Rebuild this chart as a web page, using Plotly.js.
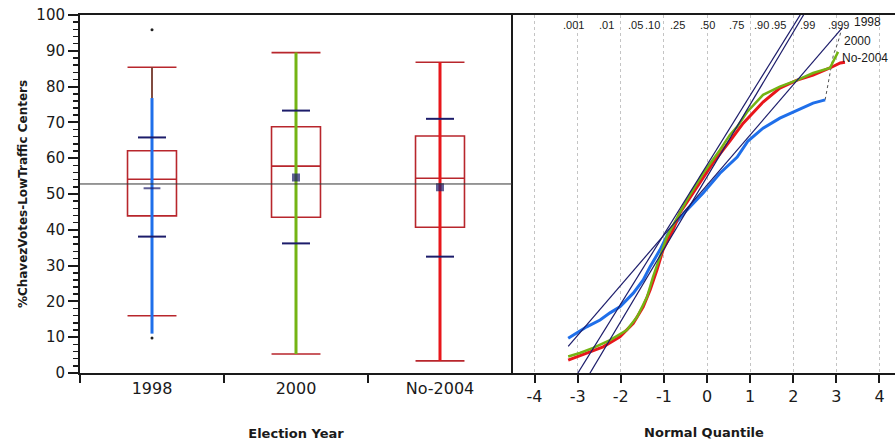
<!DOCTYPE html>
<html>
<head>
<meta charset="utf-8">
<script src="https://cdn.plot.ly/plotly-3.0.1.min.js"></script>
<style>html,body{margin:0;padding:0;background:#fff;}#chart{width:895px;height:447px;}</style>
</head>
<body>
<div id="chart"></div>
<script>
// ---------- data ----------
const categories = ['1998', '2000', 'No-2004'];
const boxQ1 = [43.9, 43.5, 40.7];
const boxMedian = [54.1, 57.8, 54.4];
const boxQ3 = [62.1, 68.8, 66.2];
const whiskerLow = [16.0, 5.3, 3.4];
const whiskerHigh = [85.4, 89.5, 86.8];
const stripLow = [11.0, 5.3, 3.4];
const stripHigh = [76.8, 89.5, 86.8];
const stripTop = [85.4, 89.5, 86.8];
const groupMeans = [51.6, 54.6, 51.9];
const sdUpper = [65.8, 73.3, 71.0];
const sdLower = [38.1, 36.2, 32.5];
const outlierCats = ['1998', '1998'];
const outlierValues = [95.9, 9.8];
const grandMean = 52.8;

// normal quantile plot
const z1998 = [-3.22, -3.10, -2.79, -2.48, -2.25, -2.02, -1.86, -1.71, -1.48, -1.32, -1.09, -0.86, -0.47, -0.09, 0.30, 0.70, 0.95, 1.30, 1.69, 2.09, 2.46, 2.74, 2.85, 2.93, 3.04, 3.13];
const v1998 = [9.7, 10.6, 12.9, 14.8, 16.8, 18.5, 20.4, 22.3, 26.0, 29.7, 34.4, 40.0, 45.5, 50.3, 55.8, 60.3, 64.8, 68.4, 71.2, 73.5, 75.4, 76.3, 83.2, 88.8, 92.5, 96.4];
const z2000 = [-3.22, -2.95, -2.64, -2.25, -1.86, -1.62, -1.39, -1.25, -1.09, -0.93, -0.47, -0.09, 0.30, 0.53, 0.70, 0.93, 1.30, 1.69, 2.09, 2.46, 2.85, 2.97, 3.04];
const v2000 = [4.6, 5.6, 7.0, 9.2, 12.0, 15.7, 21.3, 26.9, 32.5, 38.1, 48.3, 55.8, 62.3, 66.5, 68.8, 72.9, 77.7, 80.0, 81.8, 83.8, 85.2, 88.0, 89.7];
const z2004 = [-3.22, -2.79, -2.41, -2.02, -1.71, -1.48, -1.32, -1.16, -1.02, -0.79, -0.63, -0.23, 0.14, 0.53, 0.84, 1.30, 1.69, 2.09, 2.46, 2.85, 3.09, 3.20];
const v2004 = [3.6, 5.6, 7.3, 10.1, 13.9, 18.5, 23.2, 28.8, 34.4, 39.9, 44.7, 52.0, 58.7, 64.8, 69.8, 75.7, 79.6, 81.8, 83.2, 85.2, 86.6, 86.8];
const refIntercept = [52.5, 58.1, 54.8];
const refSlope = [14.0, 19.4, 20.2];
const quantileZ = [-3.09, -2.326, -1.645, -1.282, -0.674, 0, 0.674, 1.282, 1.645, 2.326, 3.09];
const quantileLabels = ['.001', '.01', '.05', '.10', '.25', '.50', '.75', '.90', '.95', '.99', '.999'];
const normalTicks = [-4, -3, -2, -1, 0, 1, 2, 3, 4];

// ---------- styles ----------
const groupColors = ['#1f6fea', '#74b414', '#e8161b'];
const boxColor = '#b8262c';
const navy = '#1c1c6a';
const font = 'DejaVu Sans, Verdana, sans-serif';
const narrowFont = 'Liberation Sans, Arial, sans-serif';
const ink = '#1a1a1a';

const traces = [];

// box plots
traces.push({
  type: 'box', x: categories, q1: boxQ1, median: boxMedian, q3: boxQ3,
  lowerfence: whiskerLow, upperfence: whiskerHigh,
  boxpoints: false, whiskerwidth: 1, width: 0.34,
  line: {color: boxColor, width: 1.6}, fillcolor: 'rgba(0,0,0,0)',
  xaxis: 'x', yaxis: 'y', hoverinfo: 'skip'
});

// data strips
categories.forEach((c, i) => {
  traces.push({type: 'scatter', mode: 'lines', x: [c, c], y: [stripHigh[i], stripTop[i]],
    line: {color: '#6a4a3a', width: 1.5}, xaxis: 'x', yaxis: 'y', hoverinfo: 'skip'});
  traces.push({type: 'scatter', mode: 'lines', x: [c, c], y: [stripLow[i], stripHigh[i]],
    line: {color: groupColors[i], width: 3}, xaxis: 'x', yaxis: 'y', hoverinfo: 'skip'});
});

// outliers
traces.push({type: 'scatter', mode: 'markers', x: outlierCats, y: outlierValues,
  marker: {color: '#222', size: 3}, xaxis: 'x', yaxis: 'y', hoverinfo: 'skip'});

// std dev ticks
traces.push({type: 'scatter', mode: 'markers', x: categories.concat(categories), y: sdUpper.concat(sdLower),
  marker: {symbol: 'line-ew', size: 20, line: {color: navy, width: 2}}, xaxis: 'x', yaxis: 'y', hoverinfo: 'skip'});

// means
traces.push({type: 'scatter', mode: 'markers', x: categories, y: groupMeans,
  marker: {symbol: ['line-ew', 'square', 'square'], size: [12, 6, 6], color: navy, line: {color: navy, width: 2}},
  xaxis: 'x', yaxis: 'y', hoverinfo: 'skip'});

// quantile curves
const tailStart = 21;
traces.push({type: 'scatter', mode: 'lines', x: z1998.slice(tailStart), y: v1998.slice(tailStart),
  line: {color: '#555', width: 1, dash: 'dot'}, xaxis: 'x2', yaxis: 'y2', hoverinfo: 'skip'});
traces.push({type: 'scatter', mode: 'lines', x: z1998.slice(0, tailStart + 1), y: v1998.slice(0, tailStart + 1),
  line: {color: groupColors[0], width: 3}, xaxis: 'x2', yaxis: 'y2', hoverinfo: 'skip'});
traces.push({type: 'scatter', mode: 'lines', x: z2004, y: v2004,
  line: {color: groupColors[2], width: 3}, xaxis: 'x2', yaxis: 'y2', hoverinfo: 'skip'});
traces.push({type: 'scatter', mode: 'lines', x: z2000, y: v2000,
  line: {color: groupColors[1], width: 2.5}, xaxis: 'x2', yaxis: 'y2', hoverinfo: 'skip'});

// reference lines
const zMin = Math.min(...z1998), zMax = Math.max(...z1998);
refIntercept.forEach((b, i) => {
  traces.push({type: 'scatter', mode: 'lines', x: [zMin, zMax],
    y: [b + refSlope[i] * zMin, b + refSlope[i] * zMax],
    line: {color: navy, width: 1.2}, xaxis: 'x2', yaxis: 'y2', hoverinfo: 'skip'});
});

const W = 895;
// small nudges keep adjacent, crowded probability labels apart
const labelNudge = [0, 0, -1, 1, 0, 0, 0, -1, 1, 0, -2];
const annotations = quantileZ.map((zv, i) => ({
  xref: 'x2', yref: 'y2 domain', x: zv, y: 1, yanchor: 'top', xanchor: 'center', yshift: -2,
  xshift: labelNudge[i], text: quantileLabels[i], showarrow: false,
  font: {family: narrowFont, size: 11, color: ink}
}));
annotations.push(
  {xref: 'x2', yref: 'y2', x: 3.36, y: 98, text: categories[0], showarrow: false, xanchor: 'left', yanchor: 'middle', font: {family: narrowFont, size: 12, color: ink}},
  {xref: 'x2', yref: 'y2', x: 3.14, y: 92.6, text: categories[1], showarrow: false, xanchor: 'left', yanchor: 'middle', font: {family: narrowFont, size: 12, color: ink}},
  {xref: 'x2', yref: 'y2', x: 3.08, y: 88.0, text: categories[2], showarrow: false, xanchor: 'left', yanchor: 'middle', font: {family: narrowFont, size: 12, color: ink}}
);

const layout = {
  width: 895, height: 447,
  margin: {l: 0, r: 0, t: 15, b: 74},
  paper_bgcolor: '#fff', plot_bgcolor: '#fff',
  showlegend: false,
  font: {family: font, color: ink},
  xaxis: {
    domain: [80 / W, 512 / W], anchor: 'y', type: 'category',
    categoryarray: categories, range: [-0.5, 2.5],
    showline: true, mirror: true, linecolor: ink, linewidth: 2,
    ticks: 'outside', tickson: 'boundaries', ticklen: 8, tickwidth: 2, tickcolor: ink,
    tickangle: 0, showgrid: false, zeroline: false,
    tickfont: {family: font, size: 16, color: ink},
    title: {text: 'Election Year', font: {family: font, size: 13, weight: 'bold', color: ink}, standoff: 32}
  },
  yaxis: {
    domain: [0, 1], anchor: 'x', range: [0, 100],
    showline: true, linecolor: ink, linewidth: 2,
    ticks: 'outside', ticklen: 10, tickwidth: 2, tickcolor: ink, dtick: 10, tick0: 0,
    minor: {ticks: 'outside', ticklen: 5, tickwidth: 1.5, tickcolor: ink, dtick: 2, showgrid: false},
    showgrid: false, zeroline: false,
    tickfont: {family: font, size: 15, color: ink},
    title: {text: '%ChavezVotes-LowTraffic Centers', font: {family: font, size: 12, weight: 'bold', color: ink}, standoff: 6}
  },
  xaxis2: {
    domain: [513 / W, 1], anchor: 'y2', range: [-4.5, 4.36],
    showline: true, mirror: true, linecolor: ink, linewidth: 2,
    ticks: 'outside', ticklen: 8, tickwidth: 2, tickcolor: ink,
    tickvals: normalTicks, ticktext: normalTicks.map(String), tickangle: 0,
    showgrid: true, gridcolor: '#c4c4c4', griddash: 'dot', gridwidth: 1, zeroline: false,
    tickfont: {family: font, size: 16, color: ink},
    title: {text: 'Normal Quantile', font: {family: font, size: 13, weight: 'bold', color: ink}, standoff: 23}
  },
  yaxis2: {
    domain: [0, 1], anchor: 'x2', range: [0, 100],
    showline: true, linecolor: ink, linewidth: 2,
    showticklabels: false, ticks: '', showgrid: false, zeroline: false
  },
  shapes: [{type: 'line', xref: 'x domain', yref: 'y', x0: 0, x1: 1, y0: grandMean, y1: grandMean,
    line: {color: '#333', width: 1}}],
  annotations: annotations
};

Plotly.newPlot('chart', traces, layout, {staticPlot: true, displayModeBar: false});
</script>
</body>
</html>
